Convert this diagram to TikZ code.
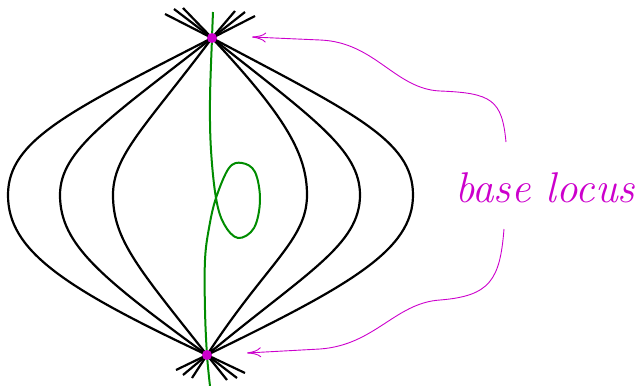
\documentclass[tikz,border=0pt]{standalone}
\usetikzlibrary{arrows.meta}
\definecolor{locus}{RGB}{204,0,204}
\definecolor{leafgreen}{RGB}{0,140,0}
\tikzset{
  basept/.style={circle, fill=locus, inner sep=0pt, minimum size=10pt},
  pencilcurve/.style={line width=2.2pt, black},
  leafcurve/.style={line width=2pt, leafgreen},
  locusarrow/.style={-{To[length=14pt,width=10pt]}, locus, line width=0.9pt},
  locuslabel/.style={text=locus, font=\fontsize{43}{50}\selectfont\itshape, inner sep=0pt},
}
\begin{document}
\begin{tikzpicture}[x=1pt, y=-1pt]
  \useasboundingbox (0,0) rectangle (641,386);
  \coordinate (P) at (212,38);
  \coordinate (Q) at (207,355);

  % left members of the pencil
  \draw[pencilcurve] (255,16) -- (P) .. controls (70,111) and (8,140) .. (8,195)
        .. controls (8,250) and (62,287) .. (Q) -- (245,373);
  \draw[pencilcurve] (245,12) -- (P) .. controls (110,118) and (60,150) .. (60,195)
        .. controls (60,245) and (102,278) .. (Q) -- (237,378);
  \draw[pencilcurve] (235,11) -- (P) .. controls (146,126) and (113,155) .. (113,195)
        .. controls (113,240) and (139,269) .. (Q) -- (227,380);
  % right members of the pencil
  \draw[pencilcurve] (165,14) -- (P) .. controls (353,113) and (413,140) .. (413,195)
        .. controls (413,250) and (351,285) .. (Q) -- (176,370);
  \draw[pencilcurve] (174,9) -- (P) .. controls (314,119) and (360,150) .. (360,195)
        .. controls (360,245) and (307,272) .. (Q) -- (183,375);
  \draw[pencilcurve] (183,8) -- (P) .. controls (287,118) and (307,155) .. (307,195)
        .. controls (307,240) and (267,263) .. (Q) -- (192,378);

  \draw[leafcurve] plot[smooth, tension=0.6] coordinates {(213,12) (212,38) (210,100)
        (211,150) (216,198) (224,224) (238,238) (254,228) (260,200) (255,172)
        (242,163) (229,168) (216,198) (209,228) (205,260) (205,310) (207,355) (210,386)};

  \node[locuslabel] (lbl) at (545,188) {base locus};
  \coordinate (lblup) at (506,142);
  \coordinate (lbldown) at (504,229);
  \coordinate (tipP) at (252,37);
  \coordinate (tipQ) at (247,353);

  \draw[locusarrow] (lblup) .. controls (502,100) and (492,93) .. (440,91)
        .. controls (395,89) and (375,42) .. (320,40) -- (tipP);
  \draw[locusarrow] (lbldown) .. controls (500,280) and (490,296) .. (440,300)
        .. controls (395,303) and (375,345) .. (320,349) -- (tipQ);

  \node[basept] (ptop) at (P) {};
  \node[basept] (pbot) at (Q) {};
\end{tikzpicture}
\end{document}
